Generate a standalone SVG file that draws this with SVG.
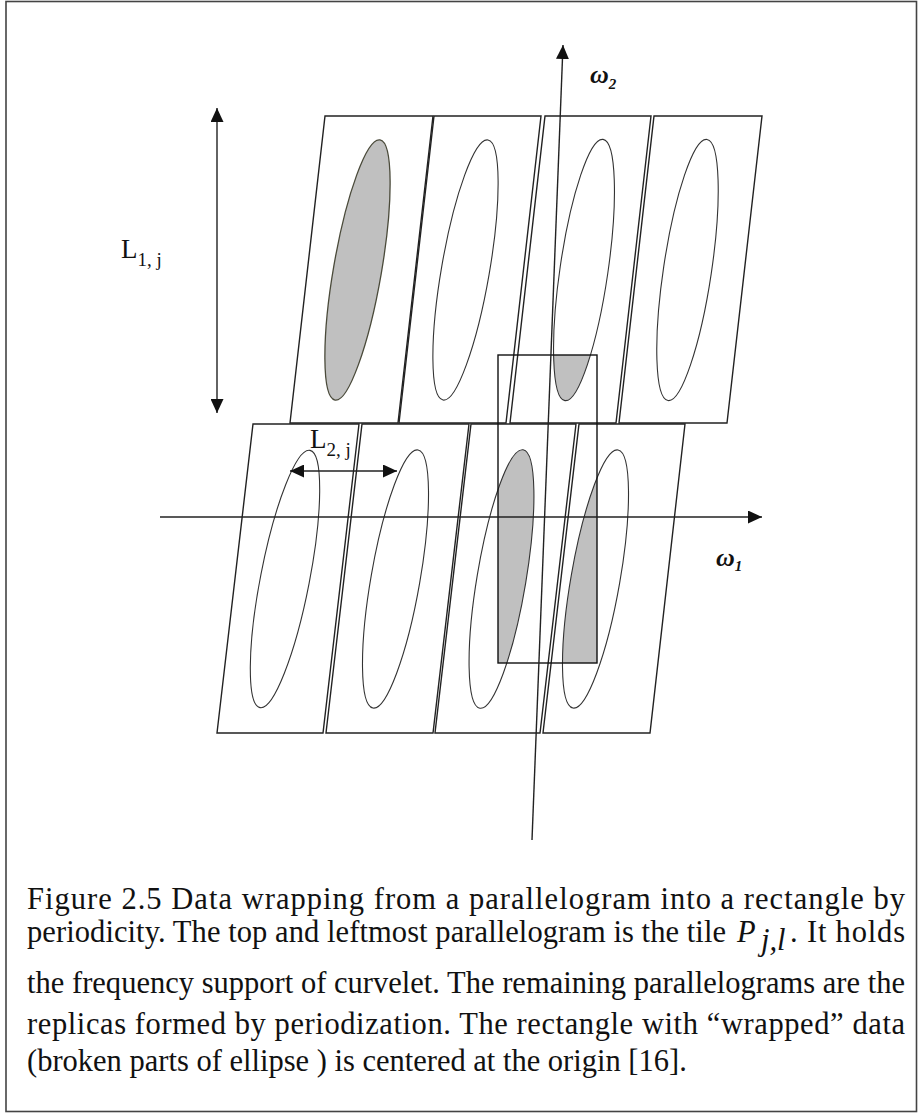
<svg xmlns="http://www.w3.org/2000/svg" width="919" height="1113" viewBox="0 0 919 1113">
<style>
.tile{fill:none;stroke:#222;stroke-width:1.4}
.ell{fill:none;stroke:#333;stroke-width:1.1}
.shade{fill:#c0c0c0;stroke:none}
.axis{fill:none;stroke:#222;stroke-width:1.4}
.cap{font-family:"Liberation Serif","Times New Roman",serif;font-size:30.5px;fill:#111}
.lab{font-family:"Liberation Serif","Times New Roman",serif;fill:#111}
.om{font-family:"Liberation Serif","Times New Roman",serif;font-style:italic;font-weight:bold;fill:#111}
</style>
<defs>
<marker id="ah" viewBox="0 0 14 13" markerWidth="14" markerHeight="13" refX="14" refY="6.5" orient="auto-start-reverse" markerUnits="userSpaceOnUse">
<path d="M0,0 L14,6.5 L0,13 z" fill="#111"/>
</marker>
<clipPath id="wrapclip"><rect x="498" y="355" width="99" height="308"/></clipPath>
</defs>
<rect x="6" y="1.5" width="910.5" height="1110" fill="#fff" stroke="#444" stroke-width="1.6"/>

<g id="shading" clip-path="url(#wrapclip)">
<ellipse class="shade" cx="584" cy="270" rx="24" ry="132" transform="rotate(8.3 584 270)"/>
<ellipse class="shade" cx="501.5" cy="579" rx="24.5" ry="131" transform="rotate(9.5 501.5 579)"/>
<ellipse class="shade" cx="595.5" cy="579" rx="24.5" ry="131" transform="rotate(9.9 595.5 579)"/>
</g>

<g id="tile-top-1">
<polygon class="tile" points="325,116 433,116 398,423 290,423"/>
<ellipse cx="357.5" cy="270" rx="24" ry="132" transform="rotate(9.8 357.5 270)" fill="#c0c0c0" stroke="#4a4a3a" stroke-width="1.3"/>
</g>
<g id="tile-top-2">
<polygon class="tile" points="434,116 541,116 506,423 399,423"/>
<ellipse class="ell" cx="465.5" cy="270" rx="24" ry="132" transform="rotate(9.8 465.5 270)"/>
</g>
<g id="tile-top-3">
<polygon class="tile" points="545,116 651,116 616,423 510,423"/>
<ellipse class="ell" cx="584" cy="270" rx="24" ry="132" transform="rotate(8.3 584 270)"/>
</g>
<g id="tile-top-4">
<polygon class="tile" points="654,116 762,116 727,423 619,423"/>
<ellipse class="ell" cx="687.5" cy="270" rx="24" ry="132" transform="rotate(8.5 687.5 270)"/>
</g>

<g id="tile-bottom-1">
<polygon class="tile" points="253,424 359,424 323,733 217,733"/>
<ellipse class="ell" cx="285" cy="579" rx="24.5" ry="131" transform="rotate(11 285 579)"/>
</g>
<g id="tile-bottom-2">
<polygon class="tile" points="362,424 469,424 433,733 326,733"/>
<ellipse class="ell" cx="395.5" cy="579" rx="24.5" ry="131" transform="rotate(9.9 395.5 579)"/>
</g>
<g id="tile-bottom-3">
<polygon class="tile" points="471,424 576,424 540,733 435,733"/>
<ellipse class="ell" cx="501.5" cy="579" rx="24.5" ry="131" transform="rotate(9.5 501.5 579)"/>
</g>
<g id="tile-bottom-4">
<polygon class="tile" points="579,424 685,424 650,733 543,733"/>
<ellipse class="ell" cx="595.5" cy="579" rx="24.5" ry="131" transform="rotate(9.9 595.5 579)"/>
</g>

<g id="wrap-rectangle">
<rect x="498" y="355" width="99" height="308" fill="none" stroke="#111" stroke-width="1.4"/>
</g>

<g id="connectors">
<line class="axis" x1="160" y1="517" x2="762" y2="517" marker-end="url(#ah)"/>
<line class="axis" x1="532" y1="840" x2="563" y2="45" marker-end="url(#ah)"/>
<line class="axis" x1="217" y1="108" x2="217" y2="413" marker-start="url(#ah)" marker-end="url(#ah)"/>
<line class="axis" x1="290" y1="471" x2="397" y2="471" marker-start="url(#ah)" marker-end="url(#ah)"/>
</g>

<g id="labels">
<text class="om" x="590" y="83" font-size="26">ω<tspan font-size="15" dy="6">2</tspan></text>
<text class="om" x="716" y="566" font-size="26">ω<tspan font-size="15" dy="5">1</tspan></text>
<text class="lab" x="121" y="258" font-size="27">L<tspan font-size="19" dy="8">1, j</tspan></text>
<text class="lab" x="310" y="448" font-size="27">L<tspan font-size="19" dy="8">2, j</tspan></text>
</g>

<g id="caption">
<text class="cap" x="27" y="909" textLength="878" lengthAdjust="spacing">Figure 2.5 Data wrapping from a parallelogram into a rectangle by</text>
<text class="cap" x="27" y="942" textLength="699" lengthAdjust="spacing">periodicity. The top and leftmost parallelogram is the tile</text>
<text class="cap" x="737" y="942" font-style="italic">P</text>
<text class="cap" x="761" y="950" font-style="italic" font-size="17">j,l</text>
<text class="cap" x="790" y="942" textLength="115" lengthAdjust="spacing">. It holds</text>
<text class="cap" x="27" y="993" textLength="878" lengthAdjust="spacing">the frequency support of curvelet. The remaining parallelograms are the</text>
<text class="cap" x="27" y="1034" textLength="878" lengthAdjust="spacing">replicas formed by periodization. The rectangle with “wrapped” data</text>
<text class="cap" x="27" y="1071">(broken  parts of ellipse ) is centered at the origin [16].</text>
</g>
</svg>
